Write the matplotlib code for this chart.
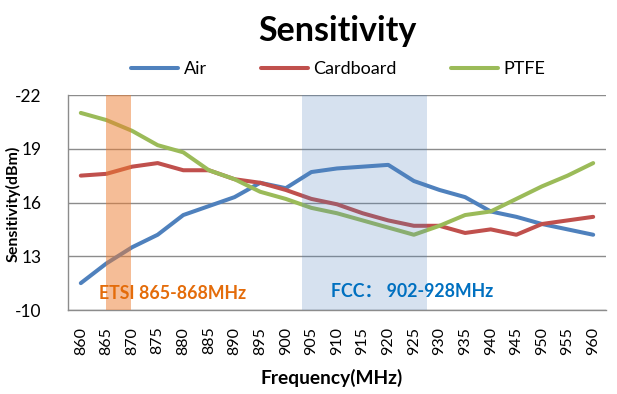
import matplotlib
matplotlib.use("Agg")
import matplotlib.pyplot as plt

plt.rcParams['font.family'] = ['Lato', 'DejaVu Sans']

freqs = [860, 865, 870, 875, 880, 885, 890, 895, 900, 905, 910,
         915, 920, 925, 930, 935, 940, 945, 950, 955, 960]
air = [11.5, 12.6, 13.5, 14.2, 15.3, 15.8, 16.3, 17.1, 16.8, 17.7, 17.9,
       18.0, 18.1, 17.2, 16.7, 16.3, 15.5, 15.2, 14.8, 14.5, 14.2]
cardboard = [17.5, 17.6, 18.0, 18.2, 17.8, 17.8, 17.3, 17.1, 16.7, 16.2, 15.9,
             15.4, 15.0, 14.7, 14.7, 14.3, 14.5, 14.2, 14.8, 15.0, 15.2]
ptfe = [21.0, 20.6, 20.0, 19.2, 18.8, 17.8, 17.3, 16.6, 16.2, 15.7, 15.4,
        15.0, 14.6, 14.2, 14.7, 15.3, 15.5, 16.2, 16.9, 17.5, 18.2]
y_ticks = [10, 13, 16, 19, 22]
y_ticklabels = ['-10', '13', '16', '19', '-22']
etsi_band = (864.9, 869.8)
fcc_band = (903.1, 927.5)

fig = plt.figure(figsize=(6.17, 3.94), dpi=100)
ax = fig.add_axes([68/617, 1 - 310/394, (606-68)/617, (310-95)/394])

ax.plot(freqs, air, color='#4F81BD', lw=2.9, label='Air', solid_capstyle='round', zorder=3)
ax.plot(freqs, cardboard, color='#C0504D', lw=2.9, label='Cardboard', solid_capstyle='round', zorder=3)
ax.plot(freqs, ptfe, color='#9BBB59', lw=2.9, label='PTFE', solid_capstyle='round', zorder=3)

ax.axvspan(*etsi_band, color='#ED7D31', alpha=0.5, lw=0, zorder=4)
ax.axvspan(*fcc_band, color='#4F81BD', alpha=0.23, lw=0, zorder=4)

ax.text(0.0582, 0.075, 'ETSI 865-868MHz', transform=ax.transAxes, color='#E46C0A',
        fontsize=12.8, fontweight='bold', va='center', ha='left', zorder=5)
ax.text(0.489, 0.085, 'FCC\uff1a 902-928MHz', transform=ax.transAxes, color='#0070C0',
        fontsize=12.8, fontweight='bold', va='center', ha='left', zorder=5,
        family=['Lato', 'Noto Sans CJK SC', 'DejaVu Sans'])

ax.set_xlim(857.5, 962.5)
ax.set_ylim(10, 22)
ax.set_xticks(freqs)
ax.set_xticklabels([str(f) for f in freqs], rotation=90, fontsize=11.5)
ax.set_yticks(y_ticks)
ax.set_yticklabels(y_ticklabels, fontsize=12.5)
ax.tick_params(axis='x', length=0, pad=12)
ax.tick_params(axis='y', length=0, pad=19)

ax.grid(axis='y', color='#8C8C8C', lw=1)
ax.set_axisbelow(True)
for s in ['top', 'right']:
    ax.spines[s].set_visible(False)
for s in ['left', 'bottom']:
    ax.spines[s].set_color('#8C8C8C')
    ax.spines[s].set_linewidth(1)

fig.text(13/617, 1 - 204/394, 'Sensitivity(dBm)', rotation=90, fontsize=11.5,
         fontweight='bold', ha='center', va='center')
fig.text(332/617, 1 - 378/394, 'Frequency(MHz)', fontsize=13.8,
         fontweight='bold', ha='center', va='center')
fig.text(337/617, 1 - 31/394, 'Sensitivity', fontsize=24.5,
         fontweight='bold', ha='center', va='center')

fig.legend(loc='center', bbox_to_anchor=(338/617, 1 - 69/394), ncol=3, frameon=False,
           fontsize=13, handlelength=2.6, handletextpad=0.3, columnspacing=3.0)

fig.savefig('out.png', dpi=100)
